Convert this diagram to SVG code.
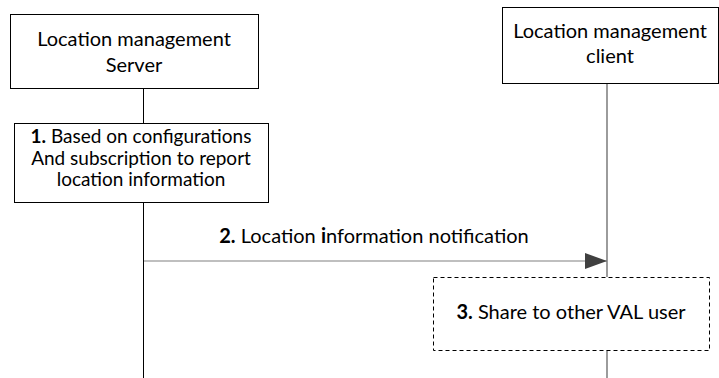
<svg xmlns="http://www.w3.org/2000/svg" width="719" height="378" viewBox="0 0 719 378">
<defs>
<style>
text{font-family:Lato,"Liberation Sans",sans-serif;font-size:20px;fill:#000;text-anchor:middle}
.s{font-size:19px}
.b{font-weight:bold}
.box{fill:#fff;stroke:#000;stroke-width:1}
.dash{fill:#fff;stroke:#000;stroke-width:1;stroke-dasharray:4,3}
.life{stroke:#000;stroke-width:1}
.life2{stroke:#595959;stroke-width:1.2}
.msg{stroke:#808080;stroke-width:1.2}
</style>
<marker id="ah" markerWidth="22" markerHeight="16" refX="22" refY="8" orient="auto" markerUnits="userSpaceOnUse">
<path d="M0,0 L22,8 L0,16 Z" fill="#404040"/>
</marker>
</defs>
<rect width="719" height="378" fill="#fff"/>
<g id="connectors">
<line class="life" x1="143.5" y1="88" x2="143.5" y2="123"/>
<line class="life" x1="143.5" y1="202" x2="143.5" y2="378"/>
<line class="life2" x1="607" y1="83" x2="607" y2="277"/>
<line class="life2" x1="607" y1="350" x2="607" y2="378"/>
<line class="msg" x1="144" y1="261" x2="607" y2="261" marker-end="url(#ah)"/>
<text x="374" y="243"><tspan class="b">2.</tspan> Location <tspan class="b">i</tspan>nformation notification</text>
</g>
<g id="server">
<rect class="box" x="10.5" y="14.5" width="248" height="74"/>
<text x="134" y="46">Location management</text>
<text x="134" y="72">Server</text>
</g>
<g id="client">
<rect class="box" x="502.5" y="7.5" width="216" height="76"/>
<text x="610" y="38">Location management</text>
<text x="610" y="63">client</text>
</g>
<g id="step1">
<rect class="box" x="14.5" y="123.5" width="254" height="79"/>
<text class="s" x="141" y="143"><tspan class="b">1.</tspan> Based on configurations</text>
<text class="s" x="141" y="164.5">And subscription to report</text>
<text class="s" x="141" y="186">location information</text>
</g>
<g id="step3">
<rect class="dash" x="433.5" y="277.5" width="276" height="73"/>
<text x="571" y="319"><tspan class="b">3.</tspan> Share to other VAL user</text>
</g>
</svg>
